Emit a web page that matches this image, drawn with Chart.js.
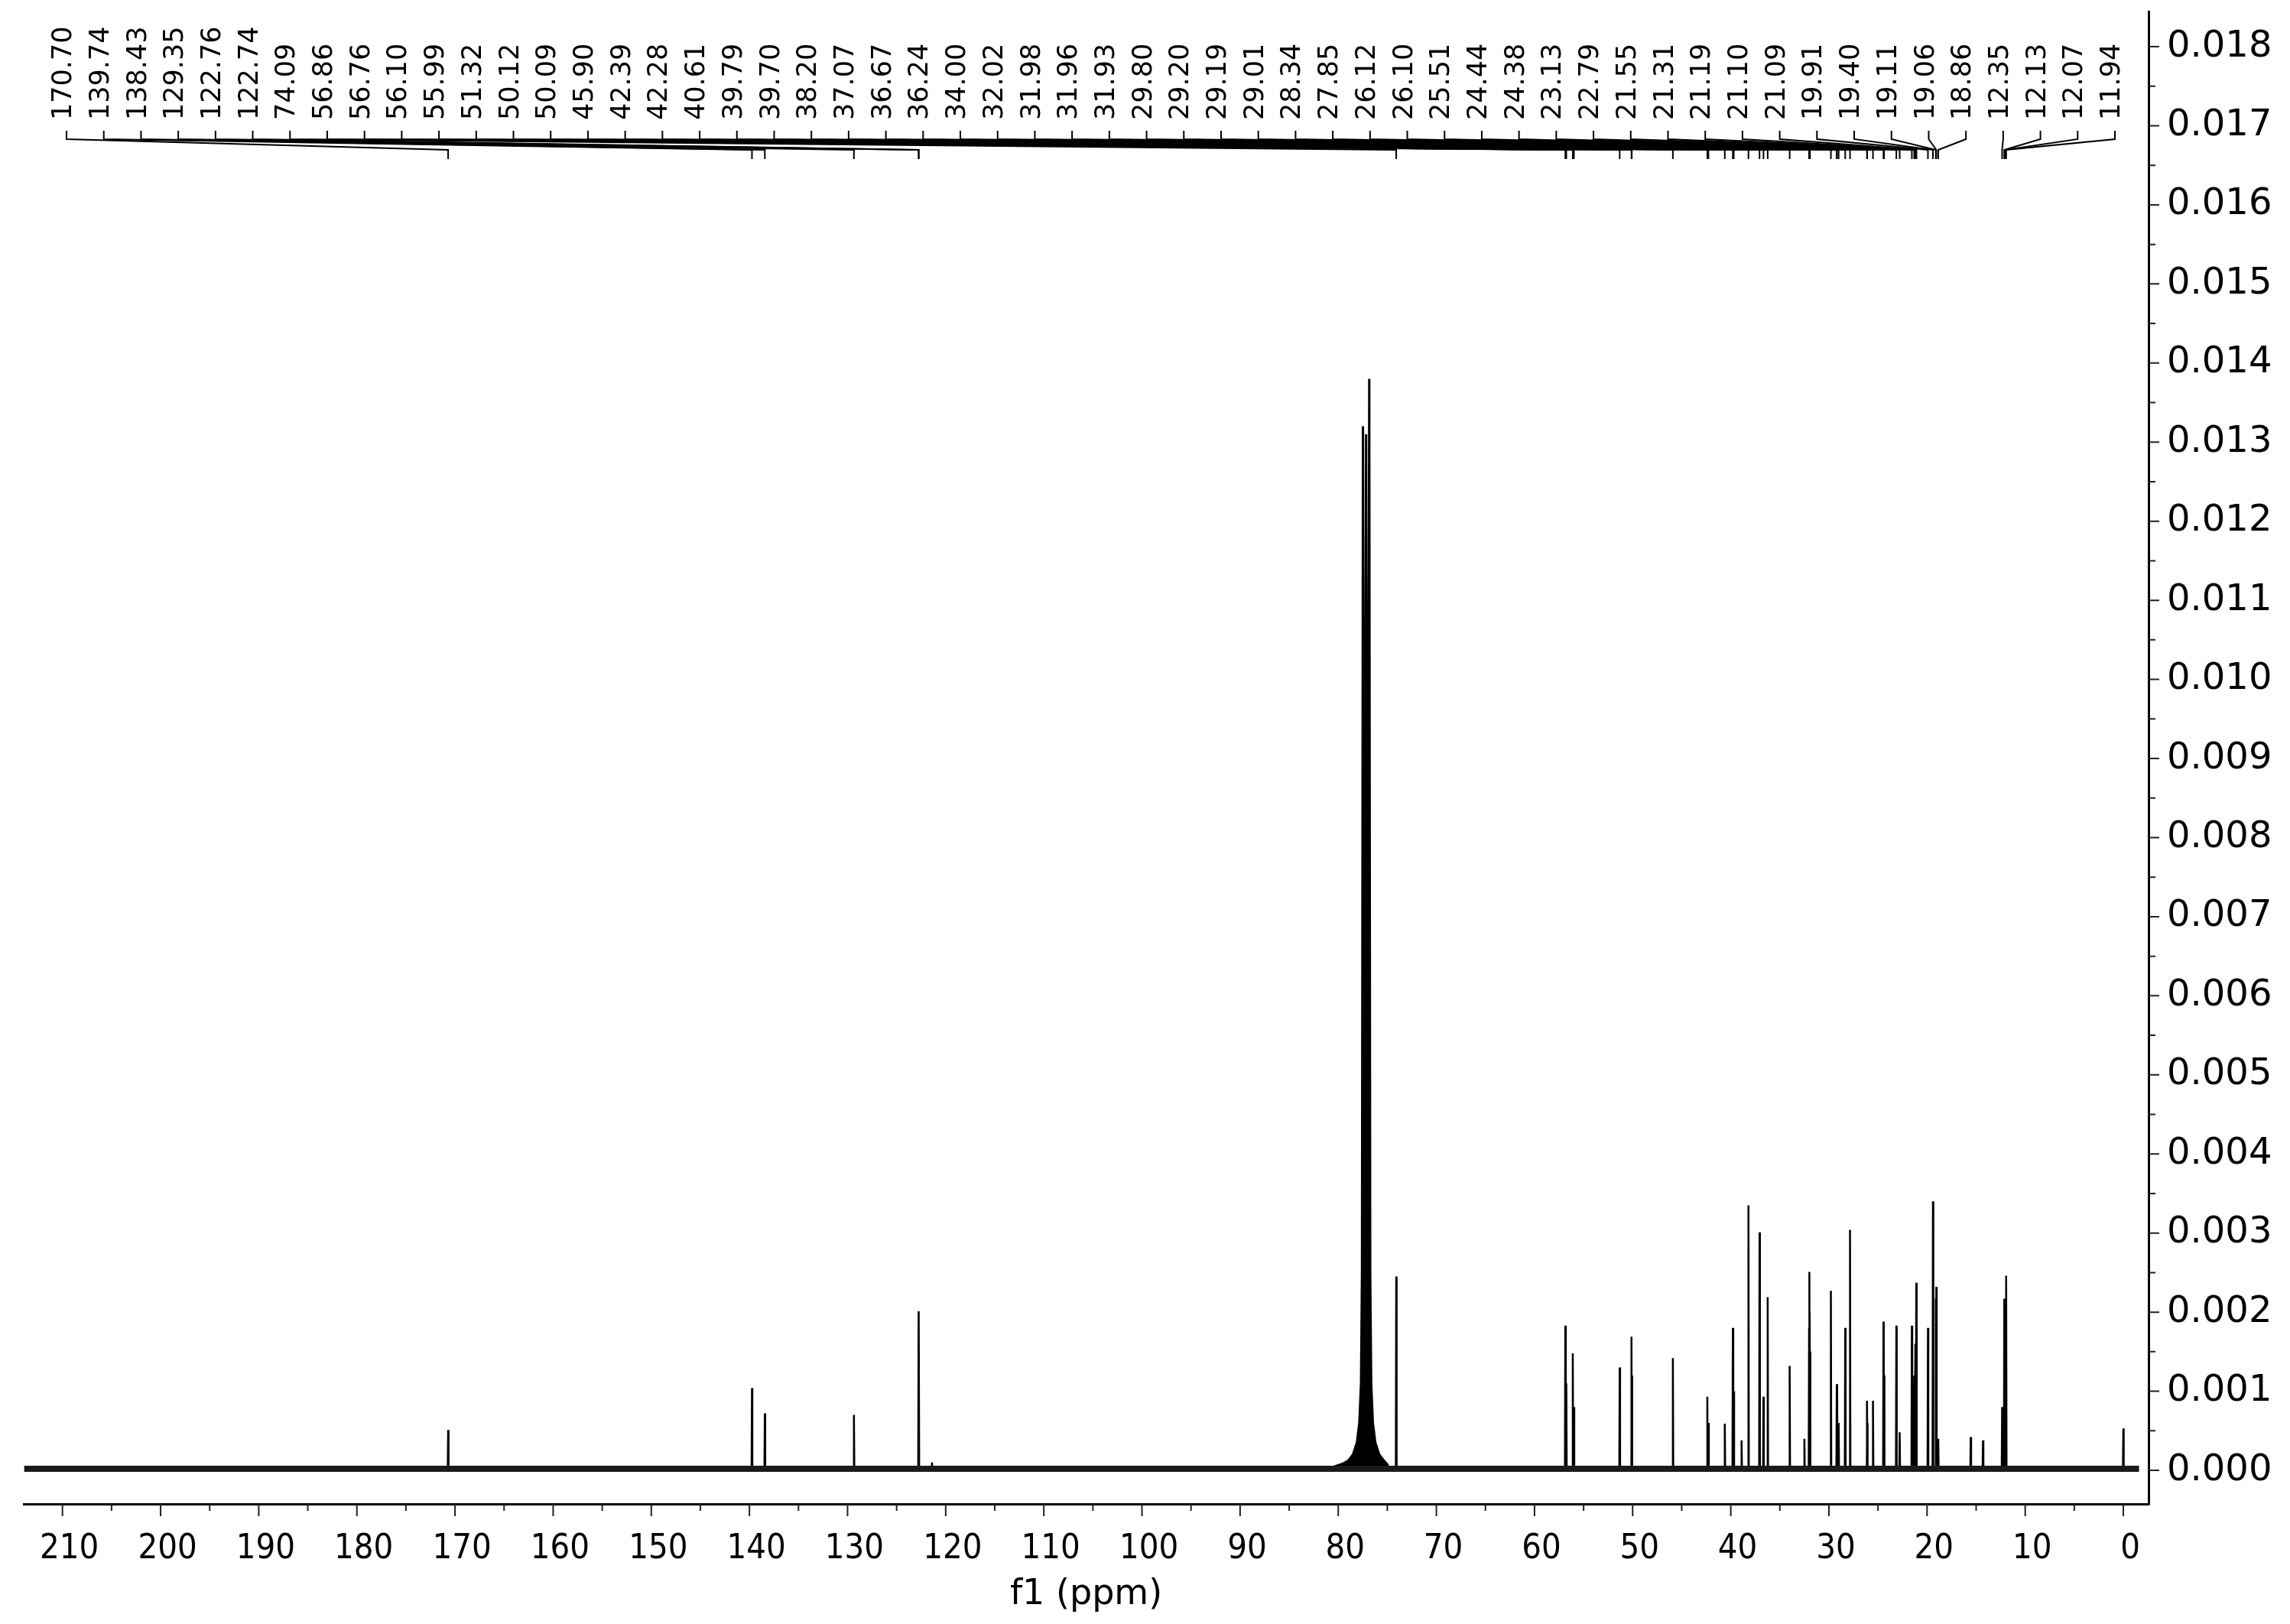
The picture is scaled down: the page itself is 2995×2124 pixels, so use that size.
<!DOCTYPE html>
<html>
<head>
<meta charset="utf-8">
<script src="https://cdn.jsdelivr.net/npm/chart.js@4.4.0/dist/chart.umd.min.js"></script>
<style>
  body { margin: 0; background: #fff; }
  canvas { display: block; }
</style>
</head>
<body>
<canvas id="nmrChart" width="2995" height="2124"></canvas>
<script>
/* #region  DATA */
// picked peaks (ppm) - these are also the labels along the top
const peakPpm = [
  170.70, 139.74, 138.43, 129.35, 122.76, 122.74, 74.09, 56.86, 56.76, 56.10,
  55.99, 51.32, 50.12, 50.09, 45.90, 42.39, 42.28, 40.61, 39.79, 39.70,
  38.20, 37.07, 36.67, 36.24, 34.00, 32.02, 31.98, 31.96, 31.93, 29.80,
  29.20, 29.19, 29.01, 28.34, 27.85, 26.12, 26.10, 25.51, 24.44, 24.38,
  23.13, 22.79, 21.55, 21.31, 21.19, 21.10, 21.09, 19.91, 19.40, 19.11,
  19.06, 18.86, 12.35, 12.13, 12.07, 11.94,
];
const peakHeight = [
  0.00051, 0.00104, 0.00072, 0.00070, 0.00201, 0.00195, 0.00245, 0.00183, 0.00110, 0.00148,
  0.00080, 0.00130, 0.00169, 0.00120, 0.00142, 0.00093, 0.00060, 0.00059, 0.00180, 0.00100,
  0.00335, 0.00301, 0.00093, 0.00219, 0.00132, 0.00180, 0.00251, 0.00200, 0.00150, 0.00227,
  0.00109, 0.00090, 0.00060, 0.00180, 0.00304, 0.00088, 0.00060, 0.00088, 0.00188, 0.00120,
  0.00183, 0.00048, 0.00183, 0.00120, 0.00160, 0.00237, 0.00180, 0.00180, 0.00340, 0.00217,
  0.00232, 0.00040, 0.00080, 0.00217, 0.00160, 0.00246,
];

// small peaks without a label
const extraPpm = [121.4, 38.9, 32.5, 15.55, 14.3, 0.0];
const extraHeight = [0.00010, 0.00038, 0.00040, 0.00042, 0.00038, 0.00053];

// CDCl3 solvent triplet with its broad foot
const solventPpm = [80.6, 79.6, 79.0, 78.5, 78.1, 77.85, 77.68, 77.58, 77.48, 77.32, 77.16, 77.0, 76.84, 76.74, 76.64, 76.47, 76.22, 75.82, 75.32, 74.9];
const solventHeight = [0.00004, 0.00008, 0.00012, 0.0002, 0.00035, 0.0006, 0.0011, 0.0025, 0.0132, 0.004, 0.0131, 0.004, 0.0138, 0.0025, 0.0011, 0.0006, 0.00035, 0.0002, 0.00012, 0.00006];

const baselineLevel = 0.00002;
const spectrumStart = 213.9;
const spectrumEnd = -1.6;

const xTickValues = [210, 200, 190, 180, 170, 160, 150, 140, 130, 120, 110, 100, 90, 80, 70, 60, 50, 40, 30, 20, 10, 0];
const yTickValues = [0, 0.001, 0.002, 0.003, 0.004, 0.005, 0.006, 0.007, 0.008, 0.009, 0.010, 0.011, 0.012, 0.013, 0.014, 0.015, 0.016, 0.017, 0.018];
/* #endregion */

/* #region  BUILD LINES */
const stickHalfWidth = 0.04;

function buildSticks(ppms, heights) {
  const pts = [];
  ppms
    .map((p, i) => ({ p, h: heights[i] }))
    .sort((a, b) => b.p - a.p)
    .forEach(({ p, h }) => {
      pts.push({ x: p + stickHalfWidth, y: baselineLevel });
      pts.push({ x: p, y: h });
      pts.push({ x: p - stickHalfWidth, y: baselineLevel });
    });
  return pts;
}

const stickPoints = buildSticks(peakPpm.concat(extraPpm), peakHeight.concat(extraHeight));
const solventPoints = solventPpm.map((p, i) => ({ x: p, y: solventHeight[i] }));
const baselinePoints = [
  { x: spectrumStart, y: baselineLevel },
  { x: spectrumEnd, y: baselineLevel },
];
/* #endregion */

/* #region  PLUGINS */
const axisTicksPlugin = {
  id: "axisTicks",
  afterDraw(chart) {
    const { ctx, chartArea, scales } = chart;
    ctx.save();
    ctx.strokeStyle = "#222";
    ctx.lineWidth = 2;
    ctx.beginPath();
    xTickValues.forEach((v, i) => {
      const x = scales.x.getPixelForValue(v);
      ctx.moveTo(x, chartArea.bottom);
      ctx.lineTo(x, chartArea.bottom + 16);
      if (i < xTickValues.length - 1) {
        const xm = scales.x.getPixelForValue((v + xTickValues[i + 1]) / 2);
        ctx.moveTo(xm, chartArea.bottom);
        ctx.lineTo(xm, chartArea.bottom + 9);
      }
    });
    yTickValues.forEach((v, i) => {
      const y = scales.y.getPixelForValue(v);
      ctx.moveTo(chartArea.right, y);
      ctx.lineTo(chartArea.right + 14, y);
      if (i < yTickValues.length - 1) {
        const ym = scales.y.getPixelForValue((v + yTickValues[i + 1]) / 2);
        ctx.moveTo(chartArea.right, ym);
        ctx.lineTo(chartArea.right + 9, ym);
      }
    });
    ctx.stroke();
    ctx.restore();
  },
};

const peakLabelsPlugin = {
  id: "peakLabels",
  afterDraw(chart) {
    const { ctx, chartArea, scales } = chart;
    const first = chartArea.left + 56;
    const step = (chartArea.right - 44 - first) / (peakPpm.length - 1);
    ctx.save();
    ctx.strokeStyle = "#000";
    ctx.fillStyle = "#000";
    ctx.lineWidth = 2;
    ctx.font = "35px 'DejaVu Sans'";
    peakPpm.forEach((ppm, i) => {
      const lx = first + i * step;
      const px = scales.x.getPixelForValue(ppm);
      ctx.beginPath();
      ctx.moveTo(lx, 171);
      ctx.lineTo(lx, 182);
      ctx.lineTo(px, 196);
      ctx.lineTo(px, 208);
      ctx.stroke();

      ctx.save();
      ctx.translate(lx - 3, 157);
      ctx.rotate(-Math.PI / 2);
      ctx.textAlign = "left";
      ctx.textBaseline = "middle";
      ctx.fillText(ppm.toFixed(2), 0, 0);
      ctx.restore();
    });
    ctx.restore();
  },
};
/* #endregion */

/* #region  CHART */
Chart.defaults.font.family = "'DejaVu Sans', Verdana, sans-serif";
Chart.defaults.color = "#000";

const nmrChart = document.getElementById("nmrChart").getContext("2d");

// keep the plot box exactly where the layout padding puts it
const noScalePadding = (scale) => {
  scale.paddingTop = 0;
  scale.paddingBottom = 0;
  scale.paddingLeft = 0;
  scale.paddingRight = 0;
};

let nmrChartCanvas = new Chart(nmrChart, {
  type: "line",
  data: {
    datasets: [
      {
        label: "baseline",
        data: baselinePoints,
        borderColor: "#1a1a1a",
        borderWidth: 8,
        pointRadius: 0,
      },
      {
        label: "solvent",
        data: solventPoints,
        borderColor: "#000",
        backgroundColor: "#000",
        fill: { value: baselineLevel },
        borderWidth: 3,
        pointRadius: 0,
      },
      {
        label: "13C",
        data: stickPoints,
        borderColor: "#000",
        borderWidth: 2.5,
        pointRadius: 0,
      },
    ],
  },
  options: {
    responsive: false,
    animation: false,
    devicePixelRatio: 1,
    layout: {
      padding: { left: 31, top: 15, right: 0, bottom: 0 },
    },
    plugins: {
      legend: { display: false },
      tooltip: { enabled: false },
    },
    elements: {
      line: { tension: 0 },
    },
    scales: {
      x: {
        type: "linear",
        reverse: true,
        min: -2.57,
        max: 213.95,
        afterBuildTicks: (scale) => {
          scale.ticks = xTickValues.map((v) => ({ value: v }));
        },
        afterFit: (scale) => {
          scale.height = 157;
          noScalePadding(scale);
        },
        grid: { drawOnChartArea: false, drawTicks: false },
        border: { display: true, color: "#000", width: 3 },
        ticks: {
          autoSkip: false,
          maxRotation: 0,
          padding: 32,
          labelOffset: 9,
          font: { family: "'DejaVu Sans Condensed', 'DejaVu Sans', sans-serif", size: 45 },
          callback: (v) => String(Math.round(v)),
        },
        title: {
          display: true,
          text: "f1 (ppm)",
          font: { size: 46 },
          padding: { top: 0, bottom: 10 },
        },
      },
      y: {
        type: "linear",
        position: "right",
        min: -0.000425,
        max: 0.018445,
        afterBuildTicks: (scale) => {
          scale.ticks = yTickValues.map((v) => ({ value: v }));
        },
        afterFit: (scale) => {
          scale.width = 185;
          noScalePadding(scale);
        },
        grid: { drawOnChartArea: false, drawTicks: false },
        border: { display: true, color: "#000", width: 3 },
        ticks: {
          autoSkip: false,
          padding: 24,
          font: { size: 48 },
          callback: (v) => v.toFixed(3),
        },
      },
    },
  },
  plugins: [axisTicksPlugin, peakLabelsPlugin],
});
/* #endregion */
</script>
</body>
</html>
